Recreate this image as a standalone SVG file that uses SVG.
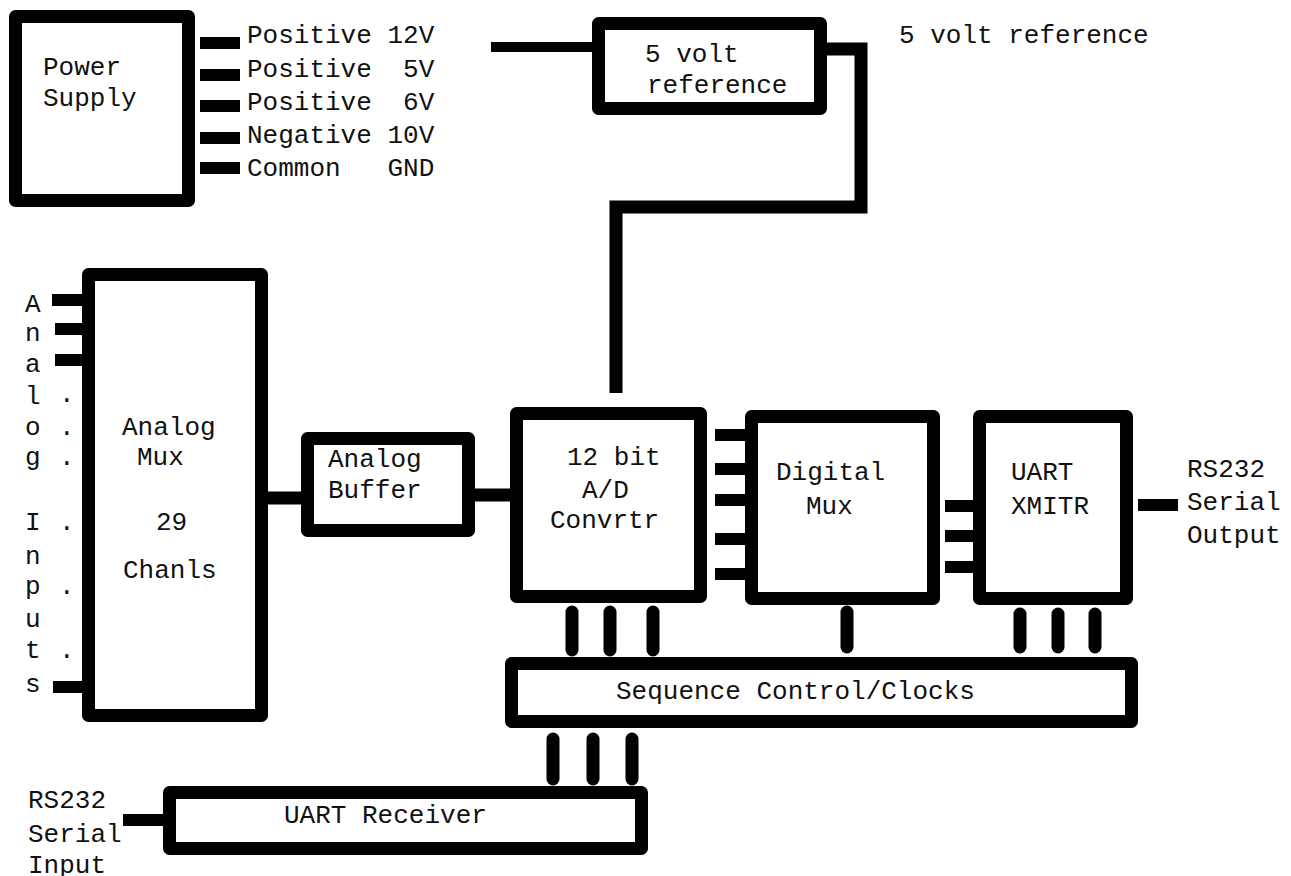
<svg xmlns="http://www.w3.org/2000/svg" width="1291" height="876" viewBox="0 0 1291 876">
<style>
.box{fill:#fff;stroke:#000;stroke-width:13;stroke-linejoin:round}
.w{fill:none;stroke:#000;stroke-width:13;stroke-linejoin:miter}
.pin{stroke:#000;stroke-width:12}
.vp{stroke:#000;stroke-width:13;stroke-linecap:round}
text{font-family:"Liberation Mono","DejaVu Sans Mono",monospace;font-size:26px;fill:#111}
</style>
<rect width="1291" height="876" fill="#fff"/>
<g id="connectors">
  <line class="pin" x1="200" y1="43" x2="240" y2="43"/>
  <line class="pin" x1="200" y1="75" x2="240" y2="75"/>
  <line class="pin" x1="200" y1="106" x2="240" y2="106"/>
  <line class="pin" x1="200" y1="138" x2="240" y2="138"/>
  <line class="pin" x1="200" y1="168" x2="240" y2="168"/>
  <line class="w" style="stroke-width:10" x1="491" y1="47" x2="594" y2="47"/>
  <polyline class="w" points="826,49 861,49 861,207 616,207 616,393"/>
  <line class="pin" x1="52" y1="300" x2="84" y2="300"/>
  <line class="pin" x1="55" y1="329" x2="84" y2="329"/>
  <line class="pin" x1="55" y1="360" x2="84" y2="360"/>
  <line class="pin" x1="53" y1="687" x2="84" y2="687"/>
  <line class="w" x1="268" y1="498" x2="302" y2="498"/>
  <line class="w" x1="474" y1="495" x2="511" y2="495"/>
  <line class="pin" x1="715" y1="435" x2="746" y2="435"/>
  <line class="pin" x1="715" y1="469" x2="746" y2="469"/>
  <line class="pin" x1="715" y1="500" x2="746" y2="500"/>
  <line class="pin" x1="715" y1="539" x2="746" y2="539"/>
  <line class="pin" x1="715" y1="574" x2="746" y2="574"/>
  <line class="pin" x1="945" y1="506" x2="974" y2="506"/>
  <line class="pin" x1="945" y1="536" x2="974" y2="536"/>
  <line class="pin" x1="945" y1="567" x2="974" y2="567"/>
  <line class="pin" x1="1138" y1="505" x2="1178" y2="505"/>
  <line class="vp" x1="572" y1="612" x2="572" y2="650"/>
  <line class="vp" x1="610" y1="612" x2="610" y2="650"/>
  <line class="vp" x1="653" y1="612" x2="653" y2="650"/>
  <line class="vp" x1="847" y1="612" x2="847" y2="647"/>
  <line class="vp" x1="1020" y1="614" x2="1020" y2="647"/>
  <line class="vp" x1="1058" y1="614" x2="1058" y2="647"/>
  <line class="vp" x1="1095" y1="614" x2="1095" y2="647"/>
  <line class="vp" x1="553" y1="739" x2="553" y2="779"/>
  <line class="vp" x1="593" y1="739" x2="593" y2="779"/>
  <line class="vp" x1="632" y1="739" x2="632" y2="779"/>
  <line class="pin" x1="123" y1="820" x2="164" y2="820"/>
</g>
<g id="power-supply">
  <rect class="box" x="15.5" y="16.5" width="173" height="184"/>
  <text x="43" y="75">Power</text>
  <text x="43" y="106">Supply</text>
  <text x="247" y="43" xml:space="preserve">Positive 12V</text>
  <text x="247" y="77" xml:space="preserve">Positive  5V</text>
  <text x="247" y="110" xml:space="preserve">Positive  6V</text>
  <text x="247" y="143" xml:space="preserve">Negative 10V</text>
  <text x="247" y="176" xml:space="preserve">Common   GND</text>
</g>
<g id="volt-reference">
  <rect class="box" x="598.5" y="23.5" width="222" height="85"/>
  <text x="645" y="62">5 volt</text>
  <text x="647" y="93">reference</text>
  <text x="899" y="43">5 volt reference</text>
</g>
<g id="analog-mux">
  <rect class="box" x="88.5" y="274.5" width="173" height="441"/>
  <text x="122" y="435">Analog</text>
  <text x="137" y="465">Mux</text>
  <text x="156" y="530">29</text>
  <text x="123" y="578">Chanls</text>
</g>
<g id="analog-inputs-label">
  <text x="25" y="312">A</text>
  <text x="25" y="341">n</text>
  <text x="25" y="372">a</text>
  <text x="25" y="404">l</text>
  <text x="25" y="435">o</text>
  <text x="25" y="465">g</text>
  <text x="25" y="530">I</text>
  <text x="25" y="564">n</text>
  <text x="25" y="594">p</text>
  <text x="25" y="627">u</text>
  <text x="25" y="658">t</text>
  <text x="25" y="692">s</text>
  <text x="59" y="402">.</text>
  <text x="59" y="435">.</text>
  <text x="59" y="465">.</text>
  <text x="59" y="530">.</text>
  <text x="59" y="594">.</text>
  <text x="59" y="658">.</text>
</g>
<g id="analog-buffer">
  <rect class="box" x="307.5" y="438.5" width="161" height="92"/>
  <text x="328" y="467">Analog</text>
  <text x="328" y="498">Buffer</text>
</g>
<g id="ad-converter">
  <rect class="box" x="516.5" y="413.5" width="184" height="183"/>
  <text x="567" y="465">12 bit</text>
  <text x="582" y="498">A/D</text>
  <text x="550" y="528">Convrtr</text>
</g>
<g id="digital-mux">
  <rect class="box" x="751.5" y="416.5" width="182" height="182"/>
  <text x="776" y="480">Digital</text>
  <text x="806" y="514">Mux</text>
</g>
<g id="uart-xmitr">
  <rect class="box" x="979.5" y="416.5" width="147" height="182"/>
  <text x="1011" y="480">UART</text>
  <text x="1011" y="514">XMITR</text>
  <text x="1187" y="477">RS232</text>
  <text x="1187" y="510">Serial</text>
  <text x="1187" y="543">Output</text>
</g>
<g id="sequence-control">
  <rect class="box" x="511.5" y="663.5" width="620" height="58"/>
  <text x="616" y="699">Sequence Control/Clocks</text>
</g>
<g id="uart-receiver">
  <rect class="box" x="169.5" y="792.5" width="472" height="56"/>
  <text x="284" y="823">UART Receiver</text>
  <text x="28" y="808">RS232</text>
  <text x="28" y="842">Serial</text>
  <text x="28" y="873">Input</text>
</g>
</svg>
